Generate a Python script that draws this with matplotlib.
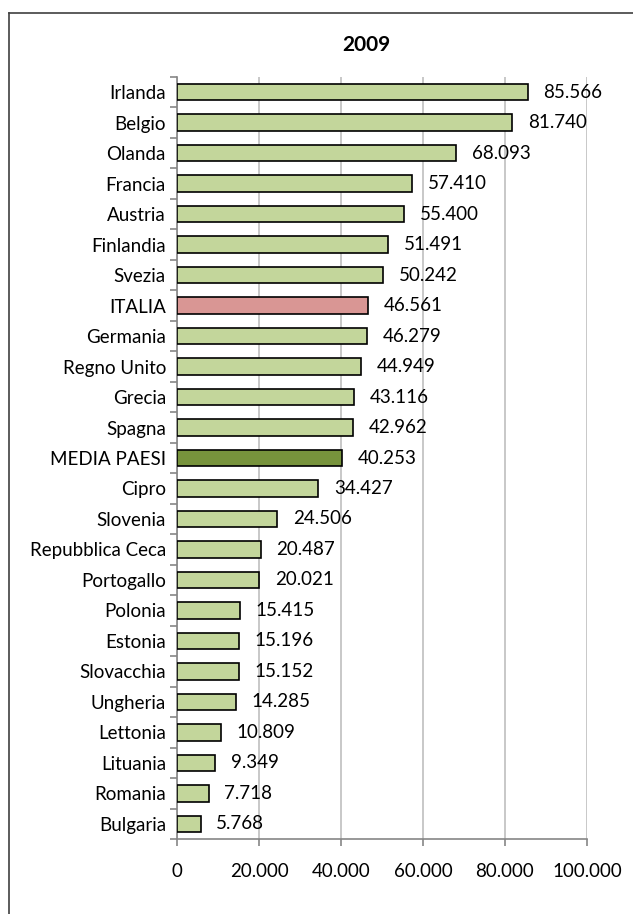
import matplotlib
matplotlib.use("Agg")
import matplotlib.pyplot as plt
from matplotlib.lines import Line2D

plt.rcParams['font.family'] = ['Lato', 'DejaVu Sans']

paesi = ['Irlanda', 'Belgio', 'Olanda', 'Francia', 'Austria', 'Finlandia', 'Svezia',
         'ITALIA', 'Germania', 'Regno Unito', 'Grecia', 'Spagna', 'MEDIA PAESI',
         'Cipro', 'Slovenia', 'Repubblica Ceca', 'Portogallo', 'Polonia', 'Estonia',
         'Slovacchia', 'Ungheria', 'Lettonia', 'Lituania', 'Romania', 'Bulgaria']
valori = [85566, 81740, 68093, 57410, 55400, 51491, 50242, 46561, 46279, 44949,
          43116, 42962, 40253, 34427, 24506, 20487, 20021, 15415, 15196, 15152,
          14285, 10809, 9349, 7718, 5768]
tick_vals = [0, 20000, 40000, 60000, 80000, 100000]

def fmt(v):
    return f"{v:,}".replace(",", ".")

colori = []
for p in paesi:
    if p == 'ITALIA':
        colori.append('#D99694')
    elif p == 'MEDIA PAESI':
        colori.append('#77933C')
    else:
        colori.append('#C3D69B')

fig = plt.figure(figsize=(6.33, 9.14), dpi=100)
ax = fig.add_axes([177 / 633, 1 - 839 / 914, 410 / 633, 762 / 914])

pos = list(range(len(paesi)))[::-1]
ax.barh(pos, valori, height=0.54, color=colori, edgecolor='black', linewidth=1.2, zorder=3)
for y, v in zip(pos, valori):
    ax.text(v + 3800, y, fmt(v), va='center', ha='left', fontsize=13.5, color='#000000')

ax.set_xlim(0, 100000)
ax.set_ylim(-0.5, len(paesi) - 0.5)
ax.set_xticks(tick_vals)
ax.set_xticklabels([fmt(t) for t in tick_vals], fontsize=13.5)
ax.set_yticks(pos)
ax.set_yticklabels(paesi, fontsize=13.5)
ax.set_yticks([p - 0.5 for p in range(len(paesi) + 1)], minor=True)
ax.tick_params(axis='y', which='major', length=0, pad=8)
ax.tick_params(axis='y', which='minor', length=5, color='#868686', width=1.2)
ax.tick_params(axis='x', length=5, color='#868686', width=1.2, pad=12)
ax.grid(axis='x', color='#BFBFBF', linewidth=1.2, zorder=0)
for s in ['top', 'right']:
    ax.spines[s].set_visible(False)
for s in ['left', 'bottom']:
    ax.spines[s].set_color('#868686')
    ax.spines[s].set_linewidth(1.2)

fig.text(366 / 633, 1 - 45 / 914, '2009', ha='center', va='center', fontsize=15, fontweight='bold')

# chart area border
fig.add_artist(Line2D([9 / 633, 9 / 633], [0, 1 - 13 / 914], color='#404040', linewidth=1.2))
fig.add_artist(Line2D([9 / 633, 1], [1 - 13 / 914, 1 - 13 / 914], color='#404040', linewidth=1.2))

fig.savefig('out.png', dpi=100)
